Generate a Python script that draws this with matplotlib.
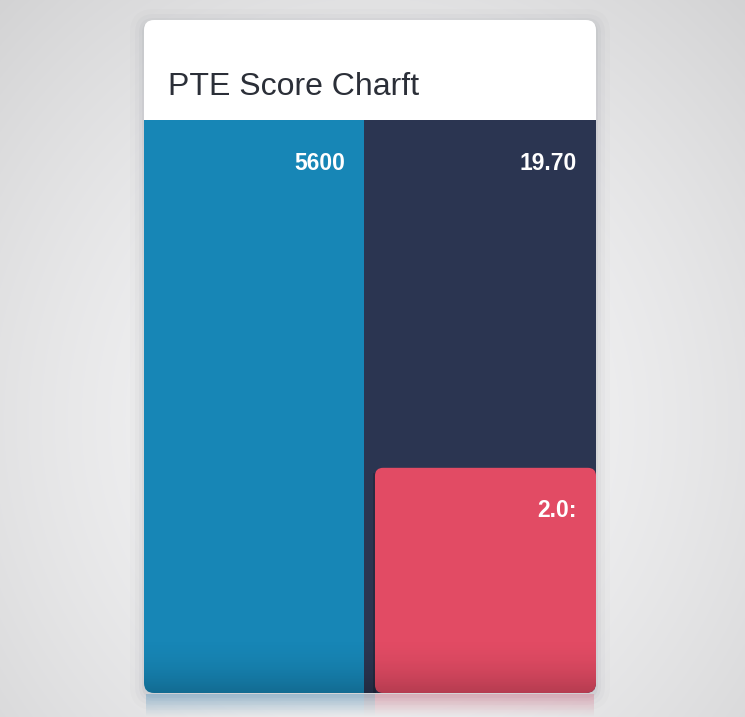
import numpy as np
import matplotlib
matplotlib.use("Agg")
import matplotlib.pyplot as plt
from matplotlib.patches import FancyBboxPatch

# chart data
categories = ["Score A", "Score B", "Score C"]
bar_heights = [100, 100, 39.3]          # share of the plot height
value_labels = ["5600", "19.70", "2.0:"]
bar_lefts = [0.0, 0.487, 0.511]
bar_widths = [0.487, 0.513, 0.489]
colors = ["#1786b6", "#2b3551", "#e24b64"]
title = "PTE Score Charft"

W, H = 745, 717
plt.rcParams["font.family"] = ["Liberation Sans", "DejaVu Sans"]

fig = plt.figure(figsize=(W / 100, H / 100), dpi=100)

# background: soft grey gradient, pixel coords
bg = fig.add_axes([0, 0, 1, 1])
bg.set_xlim(0, W)
bg.set_ylim(H, 0)
bg.axis("off")
yy, xx = np.mgrid[0:H, 0:W]
d = np.sqrt(((xx - 372) / 520.0) ** 2 + ((yy - 420) / 560.0) ** 2)
shade = np.clip(0.965 - 0.13 * d ** 1.6, 0.82, 1.0)
bg.imshow(np.dstack([shade, shade, shade * 1.005]).clip(0, 1),
          extent=(0, W, H, 0), zorder=0, aspect="auto")

# card shadow + card
for k, a in [(14, 0.02), (9, 0.03), (5, 0.04), (2, 0.06)]:
    bg.add_patch(FancyBboxPatch((144 - k, 20 - k + 3), 452 + 2 * k, 673 + 2 * k,
                                boxstyle="round,pad=0,rounding_size=%d" % (10 + k),
                                fc="#555a66", ec="none", alpha=a, zorder=1))
card = FancyBboxPatch((144, 20), 452, 673, boxstyle="round,pad=0,rounding_size=10",
                      fc="white", ec="none", zorder=2)
bg.add_patch(card)

# faint reflection under the card
refl = np.zeros((24, 452, 4))
fade = np.linspace(0.55, 0.0, 24)[:, None]
refl[:, :220, :3] = np.array([0.45, 0.65, 0.78])
refl[:, 220:231, :3] = np.array([0.55, 0.58, 0.66])
refl[:, 231:, :3] = np.array([0.86, 0.55, 0.62])
refl[:, :, 3] = fade
bg.imshow(refl, extent=(146, 594, 717, 694), zorder=1, aspect="auto")

fig.text(168 / W, 1 - 95 / H, title, fontsize=23, color="#2b2f38",
         va="baseline", ha="left")

# bars
ax = fig.add_axes([144 / W, 24 / H, 452 / W, 573 / H])
ax.set_xlim(0, 1)
ax.set_ylim(0, 100)
ax.axis("off")
ax.patch.set_alpha(0)

bars = ax.bar(bar_lefts, bar_heights, width=bar_widths, align="edge",
              color=colors, edgecolor="none", zorder=2)
clip = FancyBboxPatch((144, 20), 452, 673, boxstyle="round,pad=0,rounding_size=10",
                      transform=bg.transData)
for b in bars[:2]:
    b.set_clip_path(clip)

# red bar with rounded corners
r = bars[2]
r.set_visible(False)
asp = (100 / 573) / (1 / 452)
red = FancyBboxPatch((r.get_x(), r.get_y()), r.get_width(), r.get_height(),
                     boxstyle="round,pad=0,rounding_size=0.018", mutation_aspect=asp,
                     fc=colors[2], ec="none", zorder=3)
ax.add_patch(red)
red.set_clip_path(clip)

# darker bottom edge
g = np.linspace(0, 1, 60)[:, None] ** 2
dark = np.zeros((60, 2, 4))
dark[:, :, 3] = (g * 0.2)
dark_im = ax.imshow(dark, extent=(0, 1, 0, 100 * 60 / 573), aspect="auto",
                    zorder=4, origin="upper")
dark_im.set_clip_path(clip)

# divider shadow on the left of the red bar
ax.plot([r.get_x() - 0.002] * 2, [0, r.get_height() - 1], color="#1c2233",
        lw=2, alpha=0.5, zorder=2.5)

for b, lab in zip(bars, value_labels):
    ax.annotate(lab, (b.get_x() + b.get_width(), b.get_height()),
                xytext=(-19, -43), textcoords="offset pixels",
                ha="right", va="center", fontsize=16.5, fontweight="bold",
                color="white", zorder=5)

fig.savefig("out.png", dpi=100)
